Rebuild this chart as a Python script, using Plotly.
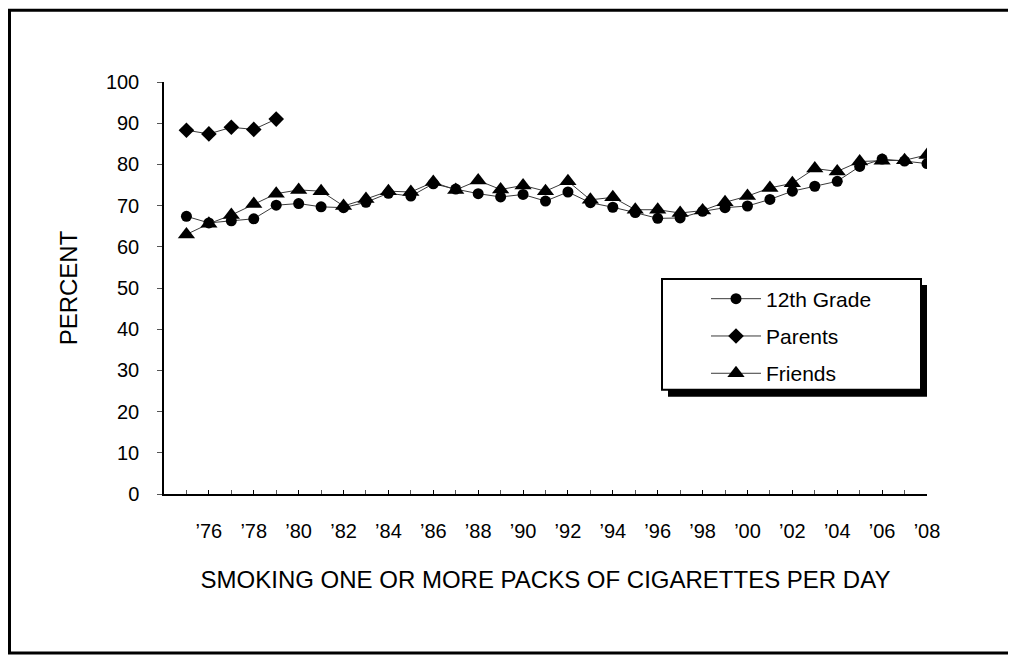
import plotly.graph_objects as go

# Monitoring-the-Future style chart: disapproval of smoking a pack+ per day
years = list(range(1975, 2009))
parent_years = [1975, 1976, 1977, 1978, 1979]

grade12 = [67.4, 65.8, 66.3, 66.8, 70.1, 70.5, 69.7, 69.5, 70.8, 73.0,
           72.3, 75.3, 74.0, 72.9, 72.1, 72.7, 71.1, 73.3, 70.7, 69.6,
           68.3, 66.9, 67.0, 68.6, 69.5, 69.9, 71.5, 73.5, 74.7, 75.9,
           79.5, 81.3, 80.8, 80.2]
parents = [88.3, 87.4, 89.0, 88.5, 91.0]
friends = [63.0, 65.6, 67.7, 70.4, 72.9, 73.8, 73.5, 69.9, 71.6, 73.5,
           73.3, 75.7, 73.8, 76.1, 73.9, 74.9, 73.5, 75.9, 71.4, 72.0,
           69.0, 69.0, 68.2, 68.8, 70.8, 72.3, 74.3, 75.4, 79.0, 78.3,
           80.7, 80.9, 81.0, 82.3]

tick_years = list(range(1976, 2009, 2))
tick_labels = ["\u2019%02d" % (y % 100) for y in tick_years]

W, H = 1016, 657
OFF = 8  # page body margin in the browser
L, R, T, B = 156, 97, 73.5, 170.5
pw, ph = W - L - R, H - T - B


# window pixel -> paper coords
def px(x):
    return (x - OFF - L) / pw


def py(y):
    return (H - B - (y - OFF)) / ph


line_col = "#3a3a3a"
fig = go.Figure()
fig.add_trace(go.Scatter(x=years, y=grade12, name="12th Grade", mode="lines+markers",
                         line=dict(color=line_col, width=1), legendgroup="a",
                         marker=dict(symbol="circle", size=11, color="black")))
fig.add_trace(go.Scatter(x=parent_years, y=parents, name="Parents", mode="lines+markers",
                         line=dict(color=line_col, width=1), legendgroup="b",
                         marker=dict(symbol="diamond", size=12, color="black")))
fig.add_trace(go.Scatter(x=years, y=friends, name="Friends", mode="lines+markers",
                         line=dict(color=line_col, width=1), legendgroup="c",
                         marker=dict(symbol="triangle-up", size=15, color="black")))

shapes = [
    # outer frame
    dict(type="rect", xref="paper", yref="paper", x0=px(9.5), x1=px(1012), y0=py(654), y1=py(9.5),
         line=dict(color="black", width=3), layer="below"),
    # legend shadow + box
    dict(type="rect", xref="paper", yref="paper", x0=px(668), x1=px(927), y0=py(397), y1=py(285),
         fillcolor="black", line=dict(width=0), layer="above"),
    dict(type="rect", xref="paper", yref="paper", x0=px(662), x1=px(921), y0=py(390), y1=py(279),
         fillcolor="white", line=dict(color="black", width=2), layer="above"),
]

fig.update_layout(
    width=W, height=H,
    margin=dict(l=L, r=R, t=T, b=B),
    paper_bgcolor="white", plot_bgcolor="white",
    font=dict(family="Liberation Sans, Arial, sans-serif", size=20, color="black"),
    showlegend=True,
    legend=dict(x=px(706), y=py(278.5), xanchor="left", yanchor="top",
                bgcolor="rgba(0,0,0,0)", borderwidth=0, itemwidth=50,
                tracegroupgap=7, font=dict(size=21)),
    shapes=shapes,
)
fig.update_xaxes(range=[1974, 2008], tickvals=tick_years, ticktext=tick_labels,
                 ticks="inside", ticklen=4, tickcolor="black",
                 minor=dict(dtick=1, tick0=1974, ticks="inside", ticklen=4, tickcolor="#555"),
                 showline=True, linecolor="black", linewidth=1.5, showgrid=False, zeroline=False,
                 ticklabelstandoff=18,
                 title=dict(text="SMOKING ONE OR MORE PACKS OF CIGARETTES PER DAY",
                            font=dict(size=24), standoff=30))
fig.update_yaxes(range=[0, 100], dtick=10, ticks="outside", ticklen=5, tickcolor="#555",
                 showline=True, linecolor="black", linewidth=1.5, showgrid=False, zeroline=False,
                 ticklabelstandoff=14,
                 title=dict(text="PERCENT", font=dict(size=24), standoff=21))

fig.write_html("out.html")
